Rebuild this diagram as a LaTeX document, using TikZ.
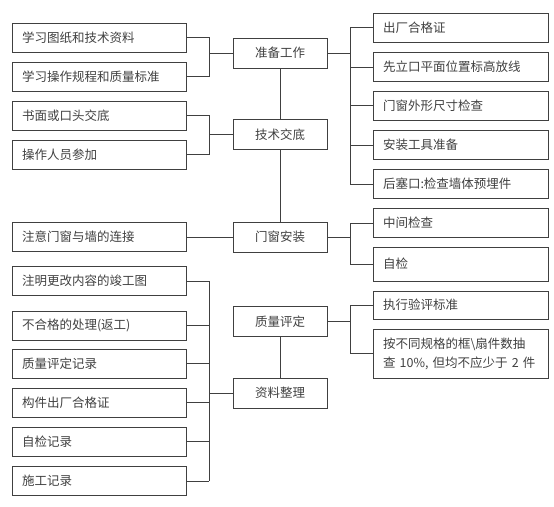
\documentclass[tikz,border=0pt]{standalone}
\usepackage{fontspec}
\newfontfamily\cjk{Noto Sans CJK SC}
\begin{document}
\begin{tikzpicture}[x=1pt,y=-1pt,line width=0.8pt,draw=black!75,
  every node/.style={font=\cjk\fontsize{12.5}{19}\selectfont,text=black!75},
  lbox/.style={draw=black!75,minimum width=174pt,minimum height=29pt,text width=154pt,inner xsep=10pt,align=left},
  mbox/.style={draw=black!75,minimum width=94pt,minimum height=30pt,align=center},
  rbox/.style={draw=black!75,minimum width=175pt,minimum height=29pt,text width=155pt,inner xsep=10pt,align=left}]
  \useasboundingbox (0,0) rectangle (554,506);
  % middle column
  \node[mbox] (prep) at (280,53) {准备工作};
  \node[mbox] (tech) at (280,134.5) {技术交底};
  \node[mbox] (inst) at (280,237) {门窗安装};
  \node[mbox] (qual) at (280,321.5) {质量评定};
  \node[mbox] (arch) at (280,393) {资料整理};
  % left column
  \node[lbox] (study1) at (99,37.5) {学习图纸和技术资料};
  \node[lbox] (study2) at (99,76.5) {学习操作规程和质量标准};
  \node[lbox] (brief1) at (99,115.5) {书面或口头交底};
  \node[lbox] (brief2) at (99,154.5) {操作人员参加};
  \node[lbox] (joint) at (99,237) {注意门窗与墙的连接};
  \node[lbox] (doc1) at (99,281) {注明更改内容的竣工图};
  \node[lbox] (doc2) at (99,325.5) {不合格的处理(返工)};
  \node[lbox] (doc3) at (99,363.5) {质量评定记录};
  \node[lbox] (doc4) at (99,402.5) {构件出厂合格证};
  \node[lbox] (doc5) at (99,441.5) {自检记录};
  \node[lbox] (doc6) at (99,481) {施工记录};
  % right column
  \node[rbox] (pre1) at (460.5,27.5) {出厂合格证};
  \node[rbox] (pre2) at (460.5,67) {先立口平面位置标高放线};
  \node[rbox] (pre3) at (460.5,105.5) {门窗外形尺寸检查};
  \node[rbox] (pre4) at (460.5,145) {安装工具准备};
  \node[rbox] (pre5) at (460.5,184) {后塞口:检查墙体预埋件};
  \node[rbox] (chk1) at (460.5,223) {中间检查};
  \node[rbox,minimum height=34pt] (chk2) at (460.5,264) {自检};
  \node[rbox,minimum height=28pt] (std1) at (460.5,305) {执行验评标准};
  \node[rbox,minimum height=49pt] (std2) at (460.5,353.5) {按不同规格的框\textbackslash 扇件数抽\\查 10\%, 但均不应少于 2 件};
  \coordinate (jl) at (209,0);
  \coordinate (jr) at (350,0);
  % spine
  \draw (prep) -- (tech); \draw (tech) -- (inst); \draw (qual) -- (arch);
  % left ties
  \draw (study1.east) -- (study1.east -| jl) -- (study2.east -| jl) -- (study2.east);
  \draw (prep.west) -- (prep.west -| jl);
  \draw (brief1.east) -- (brief1.east -| jl) -- (brief2.east -| jl) -- (brief2.east);
  \draw (tech.west) -- (tech.west -| jl);
  \draw (joint.east) -- (inst.west);
  \draw (doc1.east -| jl) -- (doc6.east -| jl);
  \foreach \n in {doc1,doc2,doc3,doc4,doc5,doc6} \draw (\n.east) -- (\n.east -| jl);
  \draw (arch.west) -- (arch.west -| jl);
  % right ties
  \draw (prep.east) -- (prep.east -| jr);
  \draw (pre1.west -| jr) -- (pre5.west -| jr);
  \foreach \n in {pre1,pre2,pre3,pre4,pre5} \draw (\n.west) -- (\n.west -| jr);
  \draw (inst.east) -- (inst.east -| jr);
  \draw (chk1.west) -- (chk1.west -| jr) -- (chk2.west -| jr) -- (chk2.west);
  \draw (qual.east) -- (qual.east -| jr);
  \draw (std1.west) -- (std1.west -| jr) -- (std2.west -| jr) -- (std2.west);
\end{tikzpicture}
\end{document}
